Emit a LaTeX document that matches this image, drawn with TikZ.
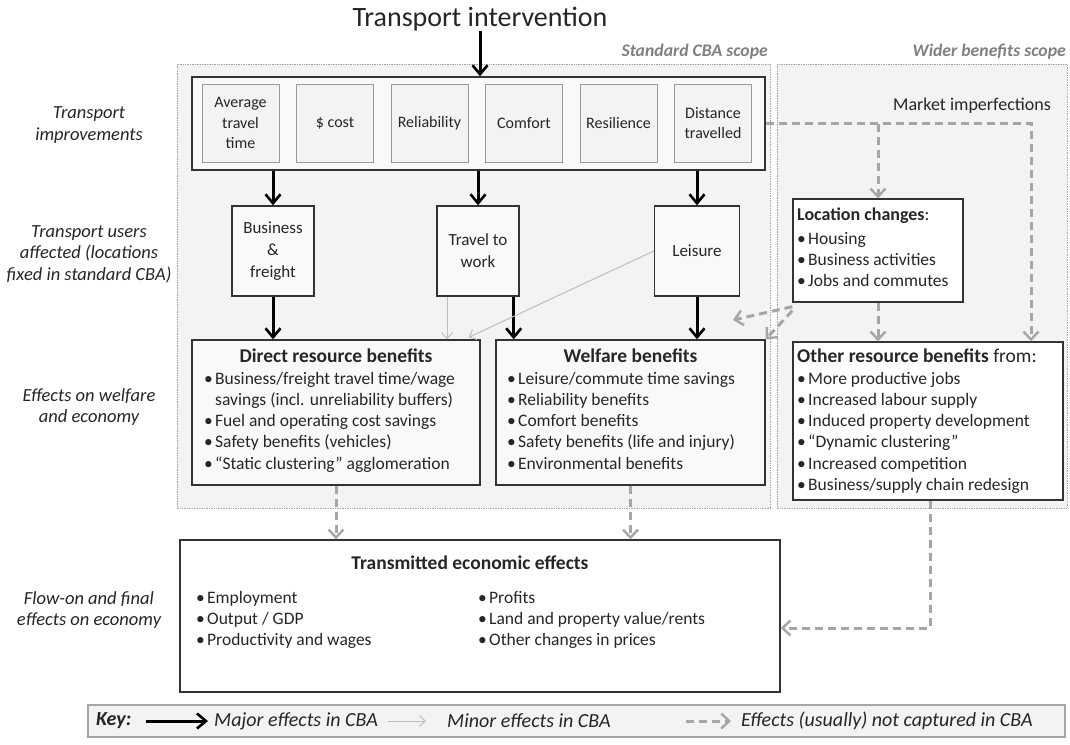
\documentclass[tikz,border=0pt]{standalone}
\usepackage{fontspec}
\setmainfont{Carlito}
\usetikzlibrary{arrows.meta}
\definecolor{scopefill}{HTML}{F3F3F3}
\definecolor{scopeline}{HTML}{A6A6A6}
\definecolor{boxfill}{HTML}{F9F9F9}
\definecolor{dashgray}{HTML}{A6A6A6}
\definecolor{minorgray}{HTML}{BDBDBD}
\definecolor{scopetext}{HTML}{808080}
\definecolor{textdark}{HTML}{262626}
\newcommand{\itm}{\makebox[11pt][l]{\textbullet}}
\begin{document}
\begin{tikzpicture}[x=1pt,y=-1pt,
	every node/.style={text=textdark, inner sep=0pt},
	frame/.style={draw=black!80, line width=1.4pt, fill=boxfill},
	impbox/.style={draw=black!40, line width=0.9pt, fill=scopefill, minimum width=77pt, minimum height=78pt, align=center, font=\fontsize{16}{20.5}\selectfont},
	userbox/.style={frame, minimum width=82pt, minimum height=90pt, align=center, font=\fontsize{17}{22}\selectfont},
	scope/.style={draw=scopeline, densely dotted, line width=0.7pt, fill=scopefill},
	scopelabel/.style={anchor=east, text=scopetext, font=\fontsize{17.7}{20}\selectfont\bfseries\itshape},
	rowlabel/.style={align=center, font=\fontsize{18.5}{21.5}\selectfont\itshape},
	head/.style={font=\fontsize{19.5}{22}\selectfont\bfseries},
	bullets/.style={anchor=north west, align=left, font=\fontsize{17.5}{21.2}\selectfont},
	keytext/.style={anchor=west, font=\fontsize{20}{22}\selectfont\itshape},
	major/.style={draw=black, line width=3pt, -{Straight Barb[length=9pt,width=15pt,line width=2.6pt]}},
	minor/.style={draw=minorgray, line width=1pt, -{Straight Barb[length=6pt,width=11pt]}},
	notcap/.style={draw=dashgray, line width=3pt, dash pattern=on 8pt off 5pt, -{Straight Barb[length=8pt,width=15pt,line width=2.4pt]}},
	]
	\fill[white] (0,0) rectangle (1070,744);
	\draw[scope] (177,64) rectangle (770,508);
	\draw[scope] (777,64) rectangle (1067,508);
	\node[scopelabel] (stdscope) at (768,52) {Standard CBA scope};
	\node[scopelabel] (widescope) at (1066,52) {Wider benefits scope};

	\node[font=\fontsize{28}{32}\selectfont] (title) at (480,19) {Transport intervention};

	\node[rowlabel] (lab1) at (89,125) {Transport\\improvements};
	\node[rowlabel] (lab2) at (89,254) {Transport users\\affected (locations\\fixed in standard CBA)};
	\node[rowlabel] (lab3) at (89,407) {Effects on welfare\\and economy};
	\node[rowlabel] (lab4) at (89,610) {Flow-on and final\\effects on economy};

	\node[frame, minimum width=573pt, minimum height=93pt] (impr) at (478.5,123.5) {};
	\foreach \i/\txt in {1/{Average\\travel\\time},2/{\$ cost},3/{Reliability},4/{Comfort},5/{Resilience},6/{Distance\\travelled}}
		\node[impbox] (imp\i) at (240.5+94.5*\i-94.5,123) {\txt};

	\node[userbox] (bus) at (273,251) {Business\\\&\\freight};
	\node[userbox] (trv) at (478,251) {Travel to\\work};
	\node[userbox, minimum width=85pt] (leis) at (697,251) {Leisure};

	\node[frame, minimum width=288pt, minimum height=145pt] (dir) at (336,412.5) {};
	\node[head] (dirT) at (336,356) {Direct resource benefits};
	\node[bullets] (dirL) at (204,372) {\itm Business/freight travel time/wage\\\hspace*{11pt}savings (incl. unreliability buffers)\\\itm Fuel and operating cost savings\\\itm Safety benefits (vehicles)\\\itm “Static clustering” agglomeration};

	\node[frame, minimum width=269pt, minimum height=145pt] (welf) at (630.5,412.5) {};
	\node[head] (welfT) at (630.5,356) {Welfare benefits};
	\node[bullets] (welfL) at (507,372) {\itm Leisure/commute time savings\\\itm Reliability benefits\\\itm Comfort benefits\\\itm Safety benefits (life and injury)\\\itm Environmental benefits};

	\node[frame, fill=white, minimum width=170pt, minimum height=103pt] (loc) at (878,250.5) {};
	\node[head, anchor=west, font=\fontsize{18}{22}\selectfont\bfseries] (locT) at (797,216) {Location changes\mdseries:};
	\node[bullets] (locL) at (797,232) {\itm Housing\\\itm Business activities\\\itm Jobs and commutes};

	\node[frame, fill=white, minimum width=270pt, minimum height=158pt] (oth) at (928,421) {};
	\node[head, anchor=west] (othT) at (797,356) {Other resource benefits \mdseries from:};
	\node[bullets] (othL) at (797,372) {\itm More productive jobs\\\itm Increased labour supply\\\itm Induced property development\\\itm “Dynamic clustering”\\\itm Increased competition\\\itm Business/supply chain redesign};

	\node[frame, fill=white, minimum width=600pt, minimum height=152pt] (trans) at (480,616) {};
	\node[head] (transT) at (470,563) {Transmitted economic effects};
	\node[bullets] (transL) at (196,591) {\itm Employment\\\itm Output / GDP\\\itm Productivity and wages};
	\node[bullets] (transR) at (478,591) {\itm Profits\\\itm Land and property value/rents\\\itm Other changes in prices};

	\node[font=\fontsize{18}{20}\selectfont] (mkt) at (972,106) {Market imperfections};
	\coordinate (mktR) at (1031,123.5);
	\coordinate (locL1) at (733,320);
	\coordinate (othBend) at (930,628);

	\draw[major] (title.south) -- (title.south |- impr.north);
	\draw[major] (bus |- impr.south) -- (bus.north);
	\draw[major] (trv |- impr.south) -- (trv.north);
	\draw[major] (leis |- impr.south) -- (leis.north);
	\draw[major] (bus.south) -- (bus.south |- dir.north);
	\draw[major] ([xshift=-6pt]trv.south east) -- ([xshift=-6pt]trv.south east |- welf.north);
	\draw[major] (leis.south) -- (leis.south |- welf.north);
	\draw[minor] ([xshift=-31pt]trv.south) -- ([xshift=-31pt]trv.south |- dir.north);
	\draw[minor] (leis.west) -- ([xshift=-12pt,yshift=2pt]dir.north east);

	\draw[notcap] (impr.east) -- (mktR) -- (mktR |- oth.north);
	\draw[notcap] (loc.north |- impr.east) -- (loc.north);
	\draw[notcap] (loc.south) -- (loc.south |- oth.north);
	\draw[notcap] ([yshift=-4pt]loc.south west) -- (locL1);
	\draw[notcap] ([yshift=-8pt]loc.south west) -- (welf.north east);
	\draw[notcap] (dir.south) -- (dir.south |- trans.north);
	\draw[notcap] (welf.south) -- (welf.south |- trans.north);
	\draw[notcap] (oth.south -| othBend) -- (othBend) -- (othBend -| trans.east);

	\node[draw=scopeline, line width=2.2pt, fill=scopefill, minimum width=977pt, minimum height=32pt] (key) at (576.5,721) {};
	\node[keytext, font=\fontsize{20}{22}\selectfont\bfseries\itshape] (keyT) at (96,721) {Key:};
	\coordinate (k1s) at (146,721);
	\coordinate (k1e) at (208,721);
	\coordinate (k2s) at (388,721);
	\coordinate (k2e) at (426,721);
	\coordinate (k3s) at (686,721);
	\coordinate (k3e) at (731,721);
	\draw[major] (k1s) -- (k1e);
	\draw[minor] (k2s) -- (k2e);
	\draw[notcap] (k3s) -- (k3e);
	\node[keytext] (keyMaj) at (214,721) {Major effects in CBA};
	\node[keytext] (keyMin) at (447,721) {Minor effects in CBA};
	\node[keytext] (keyNot) at (741,721) {Effects (usually) not captured in CBA};
\end{tikzpicture}
\end{document}
